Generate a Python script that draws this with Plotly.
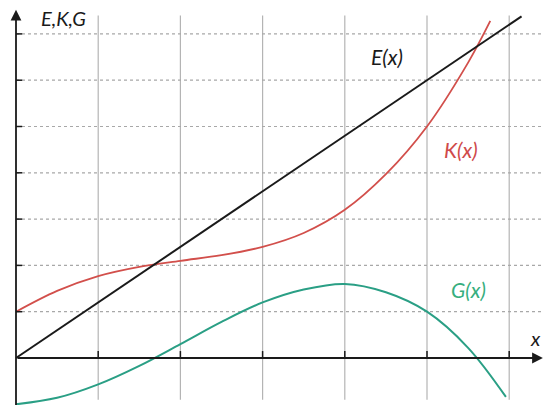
import plotly.graph_objects as go

# ---- data (grid units) ----
grid_x = [1, 2, 3, 4, 5, 6]
grid_y = [1, 2, 3, 4, 5, 6, 7]

e_x = [0, 6.15]
e_y = [0, 7.38]

k_x = [0, 0.5, 1, 1.5, 2, 2.5, 3, 3.5, 4, 4.5, 5, 5.5, 5.77]
k_y = [1.0, 1.45, 1.77, 1.97, 2.1, 2.22, 2.4, 2.7, 3.2, 3.97, 5.0, 6.38, 7.28]

g_x = [0, 0.5, 1, 1.5, 2, 2.5, 3, 3.5, 4, 4.5, 5, 5.5, 5.96]
g_y = [-1.0, -0.86, -0.57, -0.17, 0.3, 0.78, 1.2, 1.48, 1.6, 1.42, 1.0, 0.22, -0.84]

labels = {"E": "E(x)", "K": "K(x)", "G": "G(x)", "axis_y": "E,K,G", "axis_x": "x"}

BLACK = "#1a1a1a"
RED = "#d24f4b"
GREEN = "#2a9f85"
FONT = "Lato"

fig = go.Figure()

shapes = []
for gx in grid_x:
    shapes.append(dict(type="line", xref="x", yref="y", x0=gx, x1=gx, y0=-0.9, y1=7.4,
                       line=dict(color="#b4b4b4", width=1.2), layer="below"))
    shapes.append(dict(type="line", xref="x", yref="y", x0=gx, x1=gx, y0=0, y1=0.15,
                       line=dict(color=BLACK, width=1.5)))
for gy in grid_y:
    shapes.append(dict(type="line", xref="x", yref="y", x0=0, x1=6.4, y0=gy, y1=gy,
                       line=dict(color="#a8a8a8", width=1.2, dash="dot"), layer="below"))
    shapes.append(dict(type="line", xref="x", yref="y", x0=0, x1=0.075, y0=gy, y1=gy,
                       line=dict(color=BLACK, width=1.5)))
fig.update_layout(shapes=shapes)

fig.add_trace(go.Scatter(x=g_x, y=g_y, mode="lines", line=dict(color=GREEN, width=2, shape="spline"),
                         hoverinfo="skip"))
fig.add_trace(go.Scatter(x=k_x, y=k_y, mode="lines", line=dict(color=RED, width=1.8, shape="spline"),
                         hoverinfo="skip"))
fig.add_trace(go.Scatter(x=e_x, y=e_y, mode="lines", line=dict(color=BLACK, width=2),
                         hoverinfo="skip"))

annotations = [
    dict(x=0, y=7.52, ax=0, ay=-1.1, xref="x", yref="y", axref="x", ayref="y", text="",
         showarrow=True, arrowhead=2, arrowsize=1.2, arrowwidth=1.8, arrowcolor=BLACK),
    dict(x=6.41, y=0, ax=0, ay=0, xref="x", yref="y", axref="x", ayref="y", text="",
         showarrow=True, arrowhead=2, arrowsize=1.2, arrowwidth=1.8, arrowcolor=BLACK),
    dict(x=0.58, y=7.35, xref="x", yref="y", text="<i>" + labels["axis_y"] + "</i>", showarrow=False,
         font=dict(family=FONT, size=20, color=BLACK)),
    dict(x=6.41, y=0.43, xref="x", yref="y", text="<i>" + labels["axis_x"] + "</i>", showarrow=False,
         xanchor="right", font=dict(family=FONT, size=20, color=BLACK)),
    dict(x=4.51, y=6.52, xref="x", yref="y", text="<i>" + labels["E"] + "</i>", showarrow=False,
         font=dict(family=FONT, size=21, color=BLACK)),
    dict(x=5.41, y=4.5, xref="x", yref="y", text="<i>" + labels["K"] + "</i>", showarrow=False,
         font=dict(family=FONT, size=21, color="#cf4a4a")),
    dict(x=5.5, y=1.49, xref="x", yref="y", text="<i>" + labels["G"] + "</i>", showarrow=False,
         font=dict(family=FONT, size=21, color="#36ae7e")),
]

fig.update_layout(
    width=544, height=405,
    margin=dict(l=0, r=0, t=0, b=0, autoexpand=False),
    paper_bgcolor="white", plot_bgcolor="white",
    showlegend=False,
    annotations=annotations,
    xaxis=dict(range=[-16 / 82.2, 528 / 82.2], visible=False, fixedrange=True),
    yaxis=dict(range=[-47 / 46.3, 358 / 46.3], visible=False, fixedrange=True),
)

fig.write_html("out.html", config={"displayModeBar": False},
               post_script="document.body.style.margin='0';")
